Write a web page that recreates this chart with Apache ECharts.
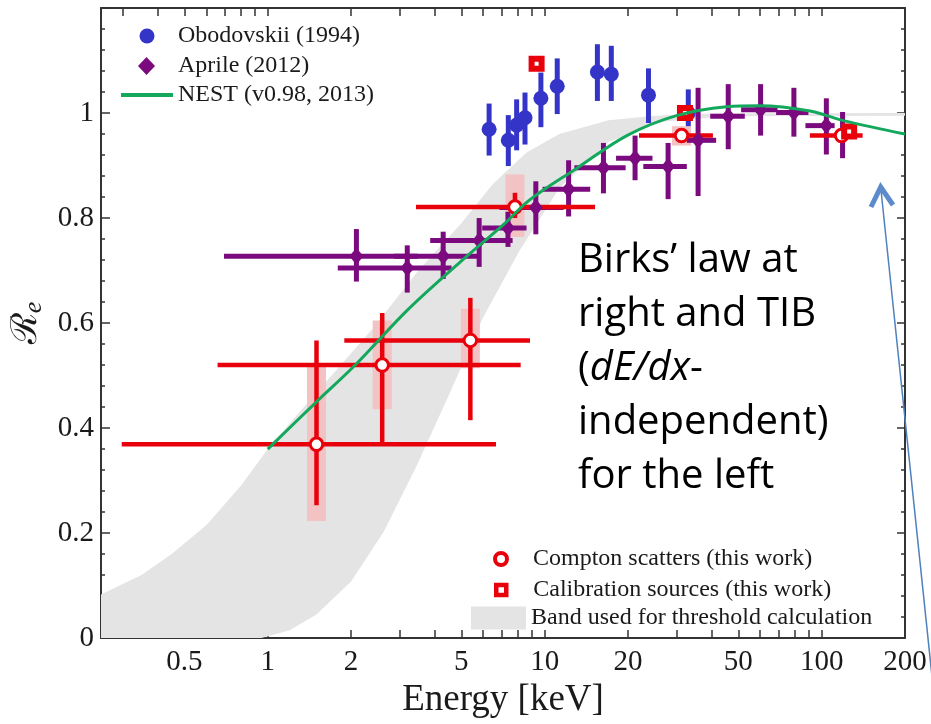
<!DOCTYPE html>
<html>
<head>
<meta charset="utf-8">
<title>Re vs Energy</title>
<script src="https://cdn.jsdelivr.net/npm/echarts@6/dist/echarts.min.js"></script>
<style>
  html, body { margin: 0; padding: 0; background: #fff; }
  #chart { width: 931px; height: 724px; }
</style>
</head>
<body>
<div id="chart"></div>
<script>
// axis ticks / labels (keV)
const xTicks = [0.3, 0.4, 0.5, 0.6, 0.7, 0.8, 0.9, 1, 2, 3, 4, 5, 6, 7, 8, 9, 10, 20, 30, 40, 50, 60, 70, 80, 90, 100];
const xLabels = [0.5, 1, 2, 5, 10, 20, 50, 100, 200];

// Obodovskii (1994)
const obodE  = [6.30, 7.39, 7.92, 8.49, 9.69, 11.1, 15.5, 17.4, 23.7, 33.0];
const obodR  = [0.969, 0.948, 0.977, 0.991, 1.028, 1.051, 1.078, 1.074, 1.034, 1.000];
const obodLo = [0.919, 0.899, 0.929, 0.940, 0.973, 0.998, 1.023, 1.023, 0.981, 0.975];
const obodHi = [1.018, 0.996, 1.026, 1.039, 1.077, 1.104, 1.131, 1.128, 1.085, 1.045];

// Aprile (2012)
const aprE   = [2.09, 3.19, 4.30, 5.80, 7.37, 9.29, 12.2, 16.3, 21.2, 27.9, 35.8, 46.0, 60.2, 79.4, 104, 119];
const aprR   = [0.727, 0.705, 0.727, 0.757, 0.781, 0.820, 0.855, 0.896, 0.914, 0.898, 0.948, 0.994, 1.006, 1.001, 0.976, 0.958];
const aprELo = [0.695, 1.79, 2.86, 3.86, 5.95, 6.86, 9.83, 12.8, 18.1, 22.7, 32.6, 39.6, 51.2, 68.5, 87.4, 112];
const aprEHi = [3.49, 4.61, 5.72, 7.66, 8.6, 11.7, 14.6, 19.6, 24.5, 32.6, 41.6, 52.8, 69.3, 89.6, 111.4, 127];
const aprRLo = [0.679, 0.658, 0.684, 0.707, 0.745, 0.769, 0.803, 0.847, 0.872, 0.836, 0.842, 0.931, 0.957, 0.955, 0.921, 0.914];
const aprRHi = [0.779, 0.748, 0.774, 0.800, 0.812, 0.870, 0.910, 0.943, 0.957, 0.943, 1.048, 1.055, 1.055, 1.048, 1.028, 1.002];

// Compton scatters (this work)
const compE   = [1.50, 2.59, 5.39, 7.81, 31.2, 118];
const compR   = [0.369, 0.520, 0.567, 0.821, 0.957, 0.957];
const compELo = [0.297, 0.659, 1.89, 3.43, 21.9, 90.7];
const compEHi = [6.67, 8.19, 8.85, 15.2, 40.5, 140.6];
const compRLo = [0.253, 0.370, 0.415, 0.800, 0.945, 0.950];
const compRHi = [0.567, 0.619, 0.648, 0.848, 0.970, 0.964];
const compSysLo = [0.223, 0.436, 0.514, 0.764, 0.938, null];
const compSysHi = [0.517, 0.605, 0.627, 0.883, 0.975, null];

// Calibration sources (this work)
const calE = [9.35, 32.1, 125.7];
const calR = [1.094, 1.000, 0.965];

// NEST (v0.98, 2013)
const nestE = [1.0, 1.5, 2.07, 3.2, 4.95, 7.08, 8.85, 13.0, 19.8, 29.9, 45.4, 59.6, 90.7, 120.8, 200];
const nestR = [0.36, 0.45, 0.52, 0.625, 0.716, 0.787, 0.835, 0.894, 0.957, 0.995, 1.012, 1.014, 1.004, 0.985, 0.96];

// band used for threshold calculation
const bandUpE = [0.25, 0.35, 0.45, 0.6, 0.8, 1.0, 1.3, 1.7, 2.4, 3.5, 5.0, 6.5, 8.6, 11.3, 17, 25, 40, 200];
const bandUpR = [0.083, 0.12, 0.16, 0.215, 0.29, 0.36, 0.43, 0.50, 0.59, 0.70, 0.79, 0.865, 0.925, 0.96, 0.986, 0.995, 0.999, 1.0];
const bandLoE = [0.25, 0.95, 1.2, 1.5, 2.0, 2.62, 3.45, 4.6, 6.0, 8.1, 11.3, 17, 26, 45, 200];
const bandLoR = [0, 0, 0.015, 0.045, 0.108, 0.202, 0.328, 0.473, 0.611, 0.737, 0.857, 0.945, 0.983, 0.994, 0.995];

const RED = '#e8000b', BLUE = '#3434c8', PURPLE = '#7b0a7e', GREEN = '#14a85c';
const SERIF = 'Liberation Serif';

var myChart = echarts.init(document.getElementById('chart'));

function errorBars(name, data, color, width) {
    return {
        type: 'custom', name: name, data: data,
        encode: { x: 0, y: 1 },
        silent: true,
        renderItem: function (params, api) {
            var c = api.coord([api.value(0), api.value(1)]);
            var xl = api.coord([api.value(2), api.value(1)]);
            var xr = api.coord([api.value(3), api.value(1)]);
            var yl = api.coord([api.value(0), api.value(4)]);
            var yh = api.coord([api.value(0), api.value(5)]);
            var st = { stroke: color, lineWidth: width };
            return {
                type: 'group',
                children: [
                    { type: 'line', shape: { x1: xl[0], y1: c[1], x2: xr[0], y2: c[1] }, style: st },
                    { type: 'line', shape: { x1: c[0], y1: yl[1], x2: c[0], y2: yh[1] }, style: st }
                ]
            };
        }
    };
}

var obodData = obodE.map((e, i) => [e, obodR[i], e, e, obodLo[i], obodHi[i]]);
var aprData = aprE.map((e, i) => [e, aprR[i], aprELo[i], aprEHi[i], aprRLo[i], aprRHi[i]]);
var compData = compE.map((e, i) => [e, compR[i], compELo[i], compEHi[i], compRLo[i], compRHi[i]]);
var sysData = [];
compE.forEach((e, i) => { if (compSysLo[i] != null) sysData.push([e, compSysLo[i], compSysHi[i]]); });

var axisLine = { show: true, onZero: false, lineStyle: { color: '#333', width: 2 } };
var tickLine = { color: '#333', width: 1.5 };

function legendItem(opts, padLeft) {
    return Object.assign({
        orient: 'horizontal', padding: 0, selectedMode: false,
        textStyle: { fontFamily: SERIF, fontSize: 24, color: '#1a1a1a', padding: [0, 0, 0, padLeft || 0] }
    }, opts);
}

option = {
    animation: false,
    grid: { left: 101, right: 26, top: 8, bottom: 80 },
    xAxis: [{
        type: 'log', logBase: 10, min: 0.25, max: 200, position: 'bottom',
        axisLine: axisLine,
        axisTick: { inside: true, length: 8, customValues: xTicks, lineStyle: tickLine },
        axisLabel: {
            customValues: xLabels, margin: 10,
            fontFamily: SERIF, fontSize: 29, color: '#1a1a1a',
            formatter: v => String(+(+v).toPrecision(3))
        },
        splitLine: { show: false },
        name: 'Energy [keV]', nameLocation: 'middle', nameGap: 40,
        nameTextStyle: { fontFamily: SERIF, fontSize: 37, color: '#1a1a1a' }
    }, {
        type: 'log', logBase: 10, min: 0.25, max: 200, position: 'top',
        axisLine: axisLine,
        axisTick: { inside: true, length: 8, customValues: xTicks, lineStyle: tickLine },
        axisLabel: { show: false },
        splitLine: { show: false }
    }],
    yAxis: [{
        type: 'value', min: 0, max: 1.2, interval: 0.2, position: 'left',
        axisLine: axisLine,
        axisTick: { inside: true, length: 9, lineStyle: tickLine },
        minorTick: { show: true, splitNumber: 5, length: 4, lineStyle: tickLine },
        axisLabel: {
            margin: 7, fontFamily: SERIF, fontSize: 29, color: '#1a1a1a',
            formatter: v => (v > 1.01 ? '' : String(+v.toFixed(1)))
        },
        splitLine: { show: false },
        name: '{r|ℛ}{e|e}', nameLocation: 'middle', nameGap: 50, nameRotate: 90,
        nameTextStyle: {
            color: '#1a1a1a',
            rich: {
                r: { fontFamily: 'DejaVu Serif', fontSize: 36, lineHeight: 40, color: '#1a1a1a' },
                e: { fontFamily: SERIF, fontStyle: 'italic', fontSize: 26, lineHeight: 26, verticalAlign: 'bottom', color: '#1a1a1a' }
            }
        }
    }, {
        type: 'value', min: 0, max: 1.2, interval: 0.2, position: 'right',
        axisLine: axisLine,
        axisTick: { inside: true, length: 8, lineStyle: tickLine },
        minorTick: { show: true, splitNumber: 5, length: 4, lineStyle: tickLine },
        axisLabel: { show: false },
        splitLine: { show: false }
    }],
    legend: [
        legendItem({ left: 139.5, top: 24, itemWidth: 15, itemHeight: 15,
            data: [{ name: 'Obodovskii (1994)', icon: 'circle' }] }, 18.5),
        legendItem({ left: 138, top: 54, itemWidth: 17, itemHeight: 18,
            data: [{ name: 'Aprile (2012)', icon: 'diamond' }] }, 18),
        legendItem({ left: 121, top: 83, itemWidth: 52, itemHeight: 4,
            data: [{ name: 'NEST (v0.98, 2013)', icon: 'rect', itemStyle: { color: GREEN } }] }),
        legendItem({ left: 493, top: 547, itemWidth: 12, itemHeight: 12,
            data: [{ name: 'Compton scatters (this work)', icon: 'circle',
                itemStyle: { color: '#fff', borderColor: RED, borderWidth: 4 } }] }, 21),
        legendItem({ left: 494, top: 578, itemWidth: 10, itemHeight: 10,
            data: [{ name: 'Calibration sources (this work)', icon: 'rect',
                itemStyle: { color: '#fff', borderColor: RED, borderWidth: 4.5 } }] }, 22),
        legendItem({ left: 471, top: 606, itemWidth: 55, itemHeight: 23,
            data: [{ name: 'Band used for threshold calculation', icon: 'rect',
                itemStyle: { color: '#e4e4e4' } }] })
    ],
    graphic: [{
        type: 'text', left: 578, top: 234, z: 100,
        style: {
            text: 'Birks’ law at\nright and TIB\n({i|dE/dx}-\nindependent)\nfor the left',
            fontFamily: 'Open Sans', fontSize: 40, lineHeight: 54, fill: '#000',
            rich: { i: { fontFamily: 'Open Sans', fontSize: 40, fontStyle: 'italic', lineHeight: 54, fill: '#000' } }
        }
    }, {
        type: 'line', z: 100,
        shape: { x1: 881, y1: 190, x2: 937, y2: 724 },
        style: { stroke: '#4f81bd', lineWidth: 1.5 }
    }, {
        type: 'polyline', z: 100,
        shape: { points: [[871, 207], [880.7, 187], [893, 205]] },
        style: { stroke: '#5b8bcb', lineWidth: 5, fill: null }
    }],
    series: [{
        type: 'custom', name: 'Band used for threshold calculation',
        data: [[bandUpE[0], bandUpR[0]]], encode: { x: 0, y: 1 },
        itemStyle: { color: '#e4e4e4' },
        silent: true,
        renderItem: function (params, api) {
            var pts = [];
            bandUpE.forEach((e, i) => pts.push(api.coord([e, bandUpR[i]])));
            for (var i = bandLoE.length - 1; i >= 0; i--) pts.push(api.coord([bandLoE[i], bandLoR[i]]));
            return { type: 'polygon', shape: { points: pts }, style: { fill: '#e4e4e4' } };
        }
    }, {
        type: 'custom', name: 'sys', data: sysData, encode: { x: 0, y: 1 }, silent: true,
        renderItem: function (params, api) {
            var lo = api.coord([api.value(0), api.value(1)]);
            var hi = api.coord([api.value(0), api.value(2)]);
            return { type: 'rect', shape: { x: lo[0] - 9.5, y: hi[1], width: 19, height: lo[1] - hi[1] },
                style: { fill: '#f3c2c2' } };
        }
    }, {
        name: 'NEST (v0.98, 2013)', type: 'line',
        data: nestE.map((e, i) => [e, nestR[i]]),
        smooth: 0.35, symbol: 'none',
        lineStyle: { color: GREEN, width: 3 },
        itemStyle: { color: GREEN }
    },
    errorBars('aprErr', aprData, PURPLE, 5),
    {
        name: 'Aprile (2012)', type: 'scatter',
        data: aprE.map((e, i) => [e, aprR[i]]),
        symbol: 'diamond', symbolSize: [14, 17],
        itemStyle: { color: PURPLE, opacity: 1 }
    },
    errorBars('obodErr', obodData, BLUE, 5),
    {
        name: 'Obodovskii (1994)', type: 'scatter',
        data: obodE.map((e, i) => [e, obodR[i]]),
        symbol: 'circle', symbolSize: 15,
        itemStyle: { color: BLUE, opacity: 1 }
    },
    errorBars('compErr', compData, RED, 4.5),
    {
        name: 'Compton scatters (this work)', type: 'scatter',
        data: compE.map((e, i) => [e, compR[i]]),
        symbol: 'circle', symbolSize: 12.5,
        itemStyle: { color: '#fff', borderColor: RED, borderWidth: 3, opacity: 1 }
    }, {
        name: 'Calibration sources (this work)', type: 'scatter',
        data: calE.map((e, i) => [e, calR[i]]),
        symbol: 'rect', symbolSize: 10,
        itemStyle: { color: '#fff', borderColor: RED, borderWidth: 6, opacity: 1 }
    }]
};

myChart.setOption(option);
</script>
</body>
</html>
